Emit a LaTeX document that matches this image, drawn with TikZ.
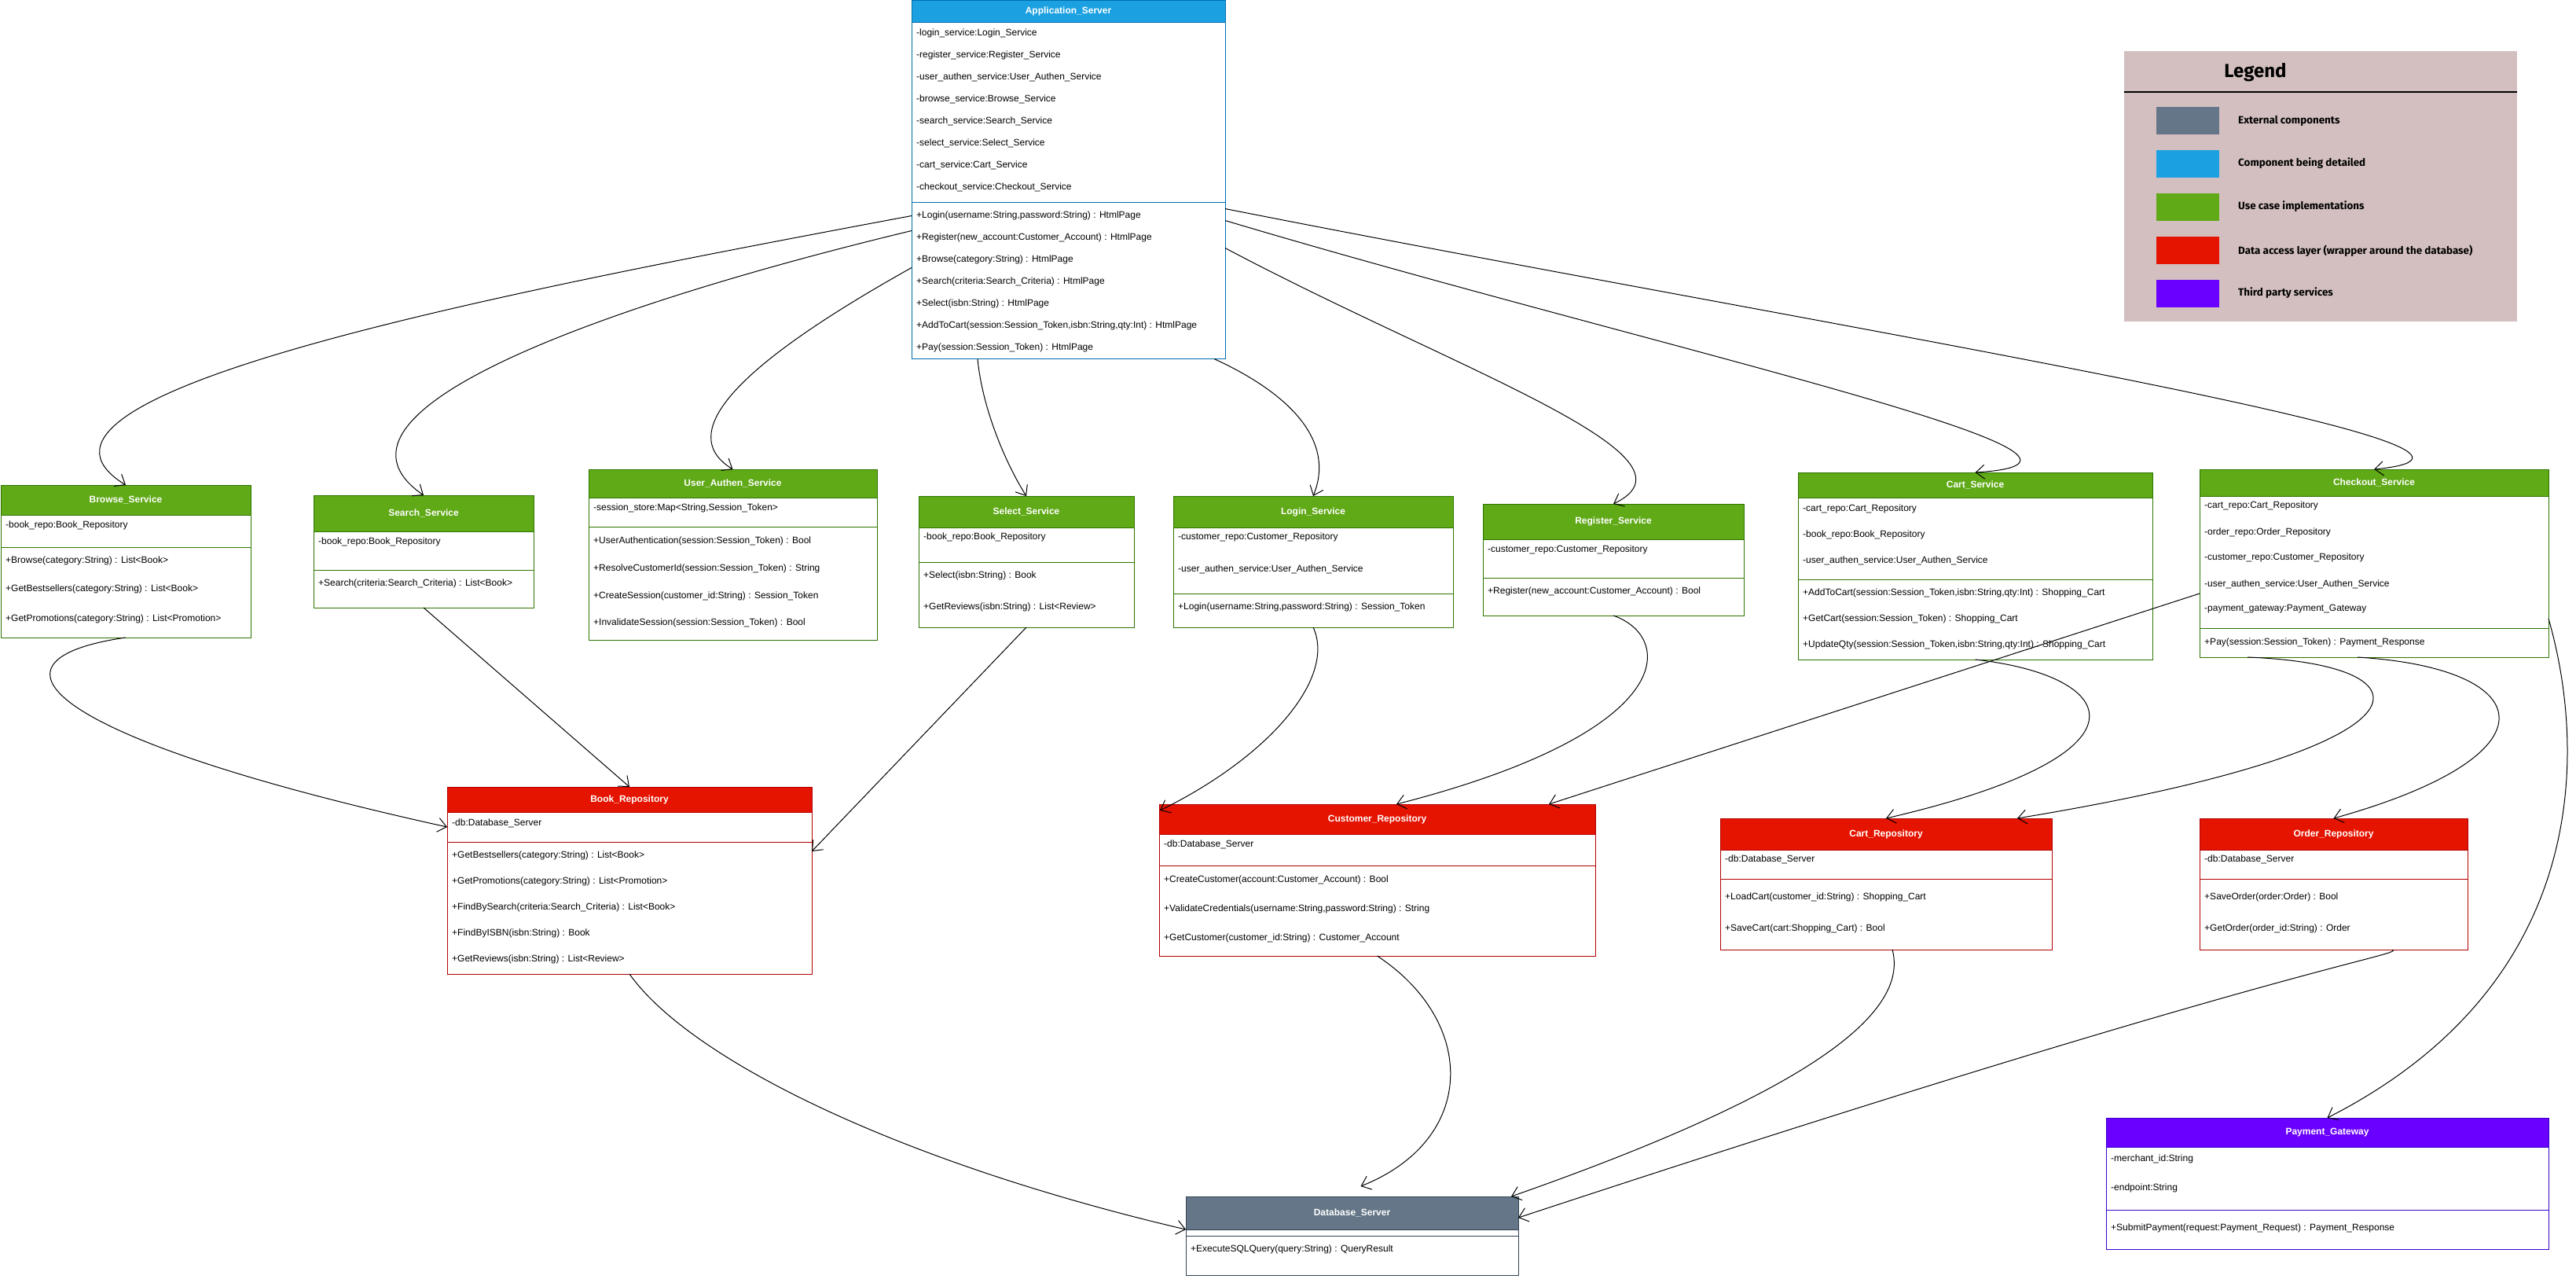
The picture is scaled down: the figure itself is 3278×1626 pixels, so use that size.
\documentclass[tikz,border=0pt]{standalone}
\usepackage{fontspec}
\setmainfont{Liberation Sans}
\newfontfamily\legfont{Fira Sans}
\usetikzlibrary{arrows.meta,calc}
\definecolor{grn}{HTML}{60A917}\definecolor{grnd}{HTML}{2D7600}
\definecolor{red}{HTML}{E51400}\definecolor{redd}{HTML}{B20000}
\definecolor{blu}{HTML}{1BA1E2}\definecolor{blud}{HTML}{006EAF}
\definecolor{gry}{HTML}{647687}\definecolor{gryd}{HTML}{314354}
\definecolor{pur}{HTML}{6A00FF}\definecolor{purd}{HTML}{3700CC}
\definecolor{legbg}{HTML}{D3BFBF}
\tikzset{
  boxnode/.style={anchor=north west, inner sep=0pt, outer sep=0pt},
  ttl/.style={text=white, font=\fontsize{12}{14}\selectfont\bfseries, inner sep=0pt},
  rowtxt/.style={anchor=west, font=\fontsize{12}{14}\selectfont, inner sep=0pt},
  conn/.style={draw=black, line width=1pt, -{Straight Barb[length=11pt,width=18pt]}},
  swatch/.style={anchor=north west, minimum width=80pt, minimum height=35pt, inner sep=0pt},
  legtxt/.style={anchor=west, font=\legfont\bfseries\fontsize{13.4}{16}\selectfont, inner sep=0pt},
}
\newcommand{\ubox}[9]{%
  \node[boxnode, minimum width=#4pt, minimum height=#5pt] (#1) at (#2,#3) {};
  \fill[#8] (#1.north west) rectangle ($(#1.north west)+(#4,#6)$);
  \draw[#8d, line width=1pt] (#1.north west) rectangle (#1.south east);
  \draw[#8d, line width=1pt] ($(#1.north west)+(0,#6)$) -- ($(#1.north east)+(0,#6)$);
  \draw[#8d, line width=1pt] ($(#1.north west)+(0,#7)$) -- ($(#1.north east)+(0,#7)$);
  \node[ttl] (#1-t) at ($(#1.north)+(0,#6/2)$) {#9};
}
\newcommand{\rw}[4]{\node[rowtxt] (#1-#2) at ($(#1.north west)+(6,#3)$) {#4};}
\begin{document}
\begin{tikzpicture}[x=1pt,y=-1pt]
\fill[white] (0,0) rectangle (3278,1626);
\useasboundingbox (0,0) rectangle (3278,1626);

% Application server
\ubox{app}{1160}{0.5}{399}{456}{28}{257}{blu}{Application\_Server}
\rw{app}{a1}{42}{-login\_service:Login\_Service}
\rw{app}{a2}{70}{-register\_service:Register\_Service}
\rw{app}{a3}{98}{-user\_authen\_service:User\_Authen\_Service}
\rw{app}{a4}{126}{-browse\_service:Browse\_Service}
\rw{app}{a5}{154}{-search\_service:Search\_Service}
\rw{app}{a6}{182}{-select\_service:Select\_Service}
\rw{app}{a7}{210}{-cart\_service:Cart\_Service}
\rw{app}{a8}{238}{-checkout\_service:Checkout\_Service}
\rw{app}{m1}{274}{+Login(username:String,password:String) : HtmlPage}
\rw{app}{m2}{302}{+Register(new\_account:Customer\_Account) : HtmlPage}
\rw{app}{m3}{330}{+Browse(category:String) : HtmlPage}
\rw{app}{m4}{358}{+Search(criteria:Search\_Criteria) : HtmlPage}
\rw{app}{m5}{386}{+Select(isbn:String) : HtmlPage}
\rw{app}{m6}{414}{+AddToCart(session:Session\_Token,isbn:String,qty:Int) : HtmlPage}
\rw{app}{m7}{442}{+Pay(session:Session\_Token) : HtmlPage}

% Services
\ubox{browse}{1}{617}{318}{194}{38}{79}{grn}{Browse\_Service}
\rw{browse}{a1}{51}{-book\_repo:Book\_Repository}
\rw{browse}{m1}{96}{+Browse(category:String) : List<Book>}
\rw{browse}{m2}{132}{+GetBestsellers(category:String) : List<Book>}
\rw{browse}{m3}{170}{+GetPromotions(category:String) : List<Promotion>}

\ubox{search}{399}{630}{280}{143}{46}{95}{grn}{Search\_Service}
\rw{search}{a1}{59}{-book\_repo:Book\_Repository}
\rw{search}{m1}{112}{+Search(criteria:Search\_Criteria) : List<Book>}

\ubox{uauth}{749}{597}{367}{217}{36}{73}{grn}{User\_Authen\_Service}
\rw{uauth}{a1}{49}{-session\_store:Map<String,Session\_Token>}
\rw{uauth}{m1}{91}{+UserAuthentication(session:Session\_Token) : Bool}
\rw{uauth}{m2}{126}{+ResolveCustomerId(session:Session\_Token) : String}
\rw{uauth}{m3}{161}{+CreateSession(customer\_id:String) : Session\_Token}
\rw{uauth}{m4}{195}{+InvalidateSession(session:Session\_Token) : Bool}

\ubox{select}{1169}{631}{274}{167}{40}{84}{grn}{Select\_Service}
\rw{select}{a1}{52}{-book\_repo:Book\_Repository}
\rw{select}{m1}{101}{+Select(isbn:String) : Book}
\rw{select}{m2}{141}{+GetReviews(isbn:String) : List<Review>}

\ubox{login}{1493}{631}{356}{167}{40}{124}{grn}{Login\_Service}
\rw{login}{a1}{52}{-customer\_repo:Customer\_Repository}
\rw{login}{a2}{93}{-user\_authen\_service:User\_Authen\_Service}
\rw{login}{m1}{141}{+Login(username:String,password:String) : Session\_Token}

\ubox{register}{1887}{641}{332}{142}{45}{94}{grn}{Register\_Service}
\rw{register}{a1}{58}{-customer\_repo:Customer\_Repository}
\rw{register}{m1}{111}{+Register(new\_account:Customer\_Account) : Bool}

\ubox{cart}{2288}{601}{451}{238}{32}{136}{grn}{Cart\_Service}
\rw{cart}{a1}{46}{-cart\_repo:Cart\_Repository}
\rw{cart}{a2}{79}{-book\_repo:Book\_Repository}
\rw{cart}{a3}{112}{-user\_authen\_service:User\_Authen\_Service}
\rw{cart}{m1}{153}{+AddToCart(session:Session\_Token,isbn:String,qty:Int) : Shopping\_Cart}
\rw{cart}{m2}{186}{+GetCart(session:Session\_Token) : Shopping\_Cart}
\rw{cart}{m3}{219}{+UpdateQty(session:Session\_Token,isbn:String,qty:Int) : Shopping\_Cart}

\ubox{checkout}{2799}{597}{444}{239}{34}{202}{grn}{Checkout\_Service}
\rw{checkout}{a1}{46}{-cart\_repo:Cart\_Repository}
\rw{checkout}{a2}{80}{-order\_repo:Order\_Repository}
\rw{checkout}{a3}{112}{-customer\_repo:Customer\_Repository}
\rw{checkout}{a4}{146}{-user\_authen\_service:User\_Authen\_Service}
\rw{checkout}{a5}{178}{-payment\_gateway:Payment\_Gateway}
\rw{checkout}{m1}{220}{+Pay(session:Session\_Token) : Payment\_Response}

% Repositories
\ubox{book}{569}{1001}{464}{238}{32}{70}{red}{Book\_Repository}
\rw{book}{a1}{46}{-db:Database\_Server}
\rw{book}{m1}{87}{+GetBestsellers(category:String) : List<Book>}
\rw{book}{m2}{120}{+GetPromotions(category:String) : List<Promotion>}
\rw{book}{m3}{153}{+FindBySearch(criteria:Search\_Criteria) : List<Book>}
\rw{book}{m4}{186}{+FindByISBN(isbn:String) : Book}
\rw{book}{m5}{219}{+GetReviews(isbn:String) : List<Review>}

\ubox{cust}{1475}{1023}{555}{193}{38}{78}{red}{Customer\_Repository}
\rw{cust}{a1}{51}{-db:Database\_Server}
\rw{cust}{m1}{96}{+CreateCustomer(account:Customer\_Account) : Bool}
\rw{cust}{m2}{133}{+ValidateCredentials(username:String,password:String) : String}
\rw{cust}{m3}{170}{+GetCustomer(customer\_id:String) : Customer\_Account}

\ubox{cartrepo}{2189}{1041}{422}{167}{40}{77}{red}{Cart\_Repository}
\rw{cartrepo}{a1}{52}{-db:Database\_Server}
\rw{cartrepo}{m1}{100}{+LoadCart(customer\_id:String) : Shopping\_Cart}
\rw{cartrepo}{m2}{140}{+SaveCart(cart:Shopping\_Cart) : Bool}

\ubox{order}{2799}{1041}{341}{167}{40}{77}{red}{Order\_Repository}
\rw{order}{a1}{52}{-db:Database\_Server}
\rw{order}{m1}{100}{+SaveOrder(order:Order) : Bool}
\rw{order}{m2}{140}{+GetOrder(order\_id:String) : Order}

\ubox{pay}{2680}{1422}{563}{167}{37}{117}{pur}{Payment\_Gateway}
\rw{pay}{a1}{52}{-merchant\_id:String}
\rw{pay}{a2}{89}{-endpoint:String}
\rw{pay}{m1}{140}{+SubmitPayment(request:Payment\_Request) : Payment\_Response}

\ubox{db}{1509}{1522}{423}{100}{42}{50}{gry}{Database\_Server}
\rw{db}{m1}{67}{+ExecuteSQLQuery(query:String) : QueryResult}

% Legend
\node[boxnode, fill=legbg, minimum width=500pt, minimum height=344pt] (legend) at (2703,65) {};
\node[font=\legfont\bfseries\fontsize{24}{28}\selectfont, inner sep=0pt] (legt) at (2870,92) {Legend};
\draw[line width=2pt] ($(legend.north west)+(0,52)$) -- ($(legend.north east)+(0,52)$);
\node[swatch, fill=gry] (sw1) at (2744,136) {};
\node[swatch, fill=blu] (sw2) at (2744,191) {};
\node[swatch, fill=grn] (sw3) at (2744,246) {};
\node[swatch, fill=red] (sw4) at (2744,301) {};
\node[swatch, fill=pur] (sw5) at (2744,356) {};
\node[legtxt] (lt1) at (2848,154) {External components};
\node[legtxt] (lt2) at (2848,208) {Component being detailed};
\node[legtxt] (lt3) at (2848,263) {Use case implementations};
\node[legtxt] (lt4) at (2848,319) {Data access layer (wrapper around the database)};
\node[legtxt] (lt5) at (2848,373) {Third party services};

% Connectors from Application_Server
\draw[conn] ($(app.north west)+(0,274)$) .. controls (650,370) and (-30,500) .. (browse.north);
\draw[conn] ($(app.north west)+(0,293)$) .. controls (800,380) and (380,520) .. (search.north);
\draw[conn] ($(app.north west)+(0,340)$) .. controls (1000,430) and (840,540) .. (uauth.north);
\draw[conn] ($(app.south west)+(84,0)$) .. controls (1250,520) and (1280,590) .. (select.north);
\draw[conn] ($(app.south west)+(385,0)$) .. controls (1640,500) and (1700,560) .. (login.north);
\draw[conn] ($(app.north east)+(0,315)$) .. controls (1850,470) and (2180,580) .. (register.north);
\draw[conn] ($(app.north east)+(0,280)$) .. controls (2100,442) and (2770,585) .. (cart.north);
\draw[conn] ($(app.north east)+(0,265)$) .. controls (2300,412) and (3300,570) .. (checkout.north);

% Services to repositories
\draw[conn] (browse.south) .. controls (-40,840) and (60,940) .. ($(book.north west)+(0,51)$);
\draw[conn] (search.south) -- (book.north);
\draw[conn] (select.south) -- ($(book.north east)+(0,82)$);
\draw[conn] (login.south) .. controls (1700,860) and (1620,960) .. ($(cust.north west)+(1,8)$);
\draw[conn] (register.south) .. controls (2130,810) and (2140,930) .. ($(cust.north west)+(302,0)$);
\draw[conn] ($(checkout.north west)+(0,158)$) -- ($(cust.north east)+(-59,0)$);
\draw[conn] (cart.south) .. controls (2700,860) and (2750,960) .. (cartrepo.north);
\draw[conn] ($(checkout.south west)+(61,0)$) .. controls (3100,845) and (3120,950) .. ($(cartrepo.north east)+(-44,0)$);
\draw[conn] ($(checkout.south west)+(201,0)$) .. controls (3230,850) and (3260,960) .. (order.north);
\draw[conn] ($(checkout.north east)+(0,190)$) .. controls (3290,950) and (3300,1250) .. (pay.north);

% Repositories to database
\draw[conn] (book.south) .. controls (880,1350) and (1150,1480) .. ($(db.north west)+(0,42)$);
\draw[conn] (cust.south) .. controls (1880,1300) and (1880,1450) .. ($(db.north)+(11,-13)$);
\draw[conn] ($(cartrepo.south)+(8,0)$) .. controls (2430,1290) and (2300,1390) .. ($(db.north east)+(-9,0)$);
\draw[conn] ($(order.south)+(75,0)$) .. controls (3060,1215) and (2900,1230) .. ($(db.north east)+(0,27)$);
\end{tikzpicture}
\end{document}
